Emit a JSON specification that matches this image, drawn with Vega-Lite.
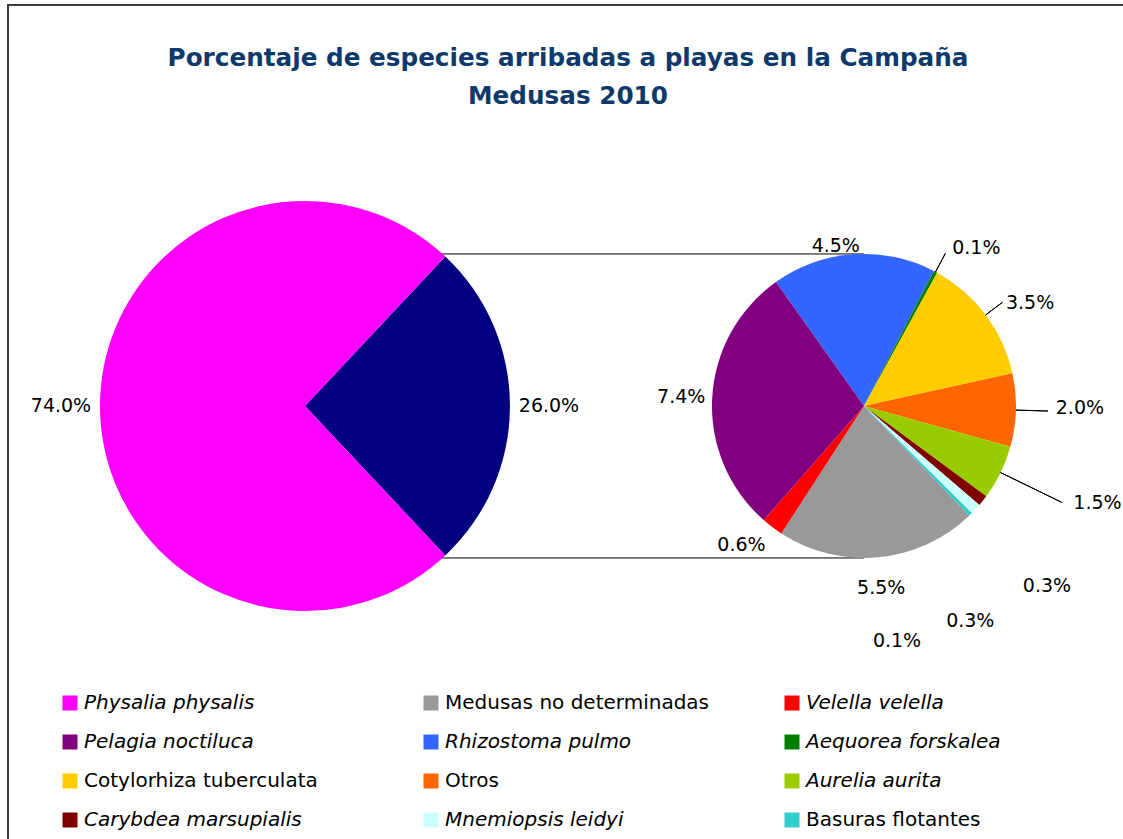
{
  "$schema": "https://vega.github.io/schema/vega-lite/v6.json",
  "width": 1130,
  "height": 877,
  "autosize": {"type": "none"},
  "padding": {"left": 8, "top": 5, "right": 0, "bottom": 0},
  "background": "white",
  "title": {
    "text": ["Porcentaje de especies arribadas a playas en la Campaña", "Medusas 2010"],
    "font": "DejaVu Sans",
    "fontSize": 24.7,
    "fontWeight": "bold",
    "color": "#0E3A6B",
    "anchor": "middle",
    "offset": -104,
    "dx": -5,
    "lineHeight": 38
  },
  "datasets": {
    "total": [
      {"grupo": "Total", "especie": "Resto", "porcentaje": 0.26, "orden": 1},
      {"grupo": "Total", "especie": "Physalia physalis", "porcentaje": 0.74, "orden": 2}
    ],
    "desglose": [
      {"grupo": "Desglose", "especie": "Rhizostoma pulmo", "porcentaje": 0.045, "orden": 1},
      {"grupo": "Desglose", "especie": "Aequorea forskalea", "porcentaje": 0.001, "orden": 2},
      {"grupo": "Desglose", "especie": "Cotylorhiza tuberculata", "porcentaje": 0.035, "orden": 3},
      {"grupo": "Desglose", "especie": "Otros", "porcentaje": 0.02, "orden": 4},
      {"grupo": "Desglose", "especie": "Aurelia aurita", "porcentaje": 0.015, "orden": 5},
      {"grupo": "Desglose", "especie": "Carybdea marsupialis", "porcentaje": 0.003, "orden": 6},
      {"grupo": "Desglose", "especie": "Mnemiopsis leidyi", "porcentaje": 0.003, "orden": 7},
      {"grupo": "Desglose", "especie": "Basuras flotantes", "porcentaje": 0.001, "orden": 8},
      {"grupo": "Desglose", "especie": "Medusas no determinadas", "porcentaje": 0.055, "orden": 9},
      {"grupo": "Desglose", "especie": "Velella velella", "porcentaje": 0.006, "orden": 10},
      {"grupo": "Desglose", "especie": "Pelagia noctiluca", "porcentaje": 0.074, "orden": 11}
    ],
    "conectores": [
      {"desde": "Total", "hasta": "Desglose"}
    ]
  },
  "config": {
    "view": {"stroke": "#3C3C3C", "strokeWidth": 2},
    "text": {"font": "DejaVu Sans"},
    "legend": {
      "orient": "bottom-left",
      "offset": 52,
      "columns": 3,
      "direction": "horizontal",
      "symbolType": "square",
      "symbolSize": 225,
      "symbolStrokeWidth": 0,
      "labelFont": "DejaVu Sans",
      "labelFontSize": 20,
      "labelColor": "black",
      "labelLimit": 500,
      "labelOffset": 4,
      "columnPadding": 72,
      "rowPadding": 19,
      "gridAlign": "all",
      "padding": 0
    }
  },
  "layer": [
    {
      "data": {"name": "conectores"},
      "mark": {"type": "rule", "color": "black", "strokeWidth": 1, "yOffset": -152},
      "encoding": {
        "x": {"field": "desde", "type": "nominal", "axis": null, "scale": {"type": "point", "domain": ["Total", "Desglose"], "padding": 0.5107, "align": 0.5201}},
        "x2": {"field": "hasta"},
        "y": {"datum": "centro", "type": "nominal", "axis": null, "scale": {"type": "point", "align": 0.4572}}
      }
    },
    {
      "data": {"name": "conectores"},
      "mark": {"type": "rule", "color": "black", "strokeWidth": 1, "yOffset": 152},
      "encoding": {
        "x": {"field": "desde", "type": "nominal", "axis": null},
        "x2": {"field": "hasta"},
        "y": {"datum": "centro", "type": "nominal", "axis": null}
      }
    },
    {
      "data": {"name": "total"},
      "encoding": {
        "x": {"field": "grupo", "type": "nominal", "axis": null},
        "y": {"datum": "centro", "type": "nominal", "axis": null},
        "theta": {"field": "porcentaje", "type": "quantitative", "stack": true, "scale": {"range": [0.754, 7.0372]}},
        "order": {"field": "orden", "type": "quantitative"}
      },
      "layer": [
        {
          "mark": {"type": "arc", "outerRadius": 205},
          "encoding": {
            "color": {
              "condition": {"test": "datum.especie === 'Resto'", "value": "#000080"},
              "field": "especie",
              "type": "nominal",
              "scale": {
                "domain": ["Physalia physalis", "Medusas no determinadas", "Velella velella", "Pelagia noctiluca", "Rhizostoma pulmo", "Aequorea forskalea", "Cotylorhiza tuberculata", "Otros", "Aurelia aurita", "Carybdea marsupialis", "Mnemiopsis leidyi", "Basuras flotantes"],
                "range": ["#FF00FF", "#999999", "#FF0000", "#800080", "#3366FF", "#008000", "#FFCC00", "#FF6600", "#99CC00", "#800000", "#CCFFFF", "#33CCCC"]
              },
              "legend": {
                "title": null,
                "encode": {"labels": {"update": {"fontStyle": {"signal": "indexof(['Medusas no determinadas','Cotylorhiza tuberculata','Otros','Basuras flotantes'], datum.value) >= 0 ? 'normal' : 'italic'"}}}}
              }
            }
          }
        },
        {
          "mark": {"type": "text", "radius": 244, "fontSize": 19, "color": "black"},
          "encoding": {"text": {"field": "porcentaje", "type": "quantitative", "format": ".1%"}}
        }
      ]
    },
    {
      "data": {"name": "desglose"},
      "encoding": {
        "x": {"field": "grupo", "type": "nominal", "axis": null},
        "y": {"datum": "centro", "type": "nominal", "axis": null},
        "theta": {"field": "porcentaje", "type": "quantitative", "stack": true, "scale": {"range": [-0.618, 5.6652]}},
        "order": {"field": "orden", "type": "quantitative"}
      },
      "layer": [
        {
          "mark": {"type": "arc", "outerRadius": 152},
          "encoding": {
            "color": {
              "field": "especie",
              "type": "nominal",
              "legend": {
                "title": null,
                "encode": {"labels": {"update": {"fontStyle": {"signal": "indexof(['Medusas no determinadas','Cotylorhiza tuberculata','Otros','Basuras flotantes'], datum.value) >= 0 ? 'normal' : 'italic'"}}}}
              }
            }
          }
        },
        {
          "mark": {"type": "arc", "innerRadius": 152, "outerRadius": 173, "padAngle": 2, "fill": "transparent", "stroke": "black", "strokeWidth": 1},
          "encoding": {"strokeOpacity": {"condition": {"test": "indexof(['Aequorea forskalea','Cotylorhiza tuberculata'], datum.especie) >= 0", "value": 1}, "value": 0}}
        },
        {
          "mark": {"type": "arc", "innerRadius": 152, "outerRadius": 184, "padAngle": 2, "fill": "transparent", "stroke": "black", "strokeWidth": 1},
          "encoding": {"strokeOpacity": {"condition": {"test": "datum.especie === 'Otros'", "value": 1}, "value": 0}}
        },
        {
          "mark": {"type": "arc", "innerRadius": 152, "outerRadius": 220, "padAngle": 2, "fill": "transparent", "stroke": "black", "strokeWidth": 1},
          "encoding": {"strokeOpacity": {"condition": {"test": "datum.especie === 'Aurelia aurita'", "value": 1}, "value": 0}}
        },
        {
          "mark": {"type": "text", "radius": 183, "fontSize": 19, "color": "black"},
          "encoding": {"text": {"condition": {"test": "indexof(['Medusas no determinadas','Pelagia noctiluca'], datum.especie) >= 0", "field": "porcentaje", "type": "quantitative", "format": ".1%"}, "value": ""}}
        },
        {
          "mark": {"type": "text", "radius": 183, "dx": -12, "dy": -7, "fontSize": 19, "color": "black"},
          "encoding": {"text": {"condition": {"test": "datum.especie === 'Velella velella'", "field": "porcentaje", "type": "quantitative", "format": ".1%"}, "value": ""}}
        },
        {
          "mark": {"type": "text", "radius": 160, "dx": -17, "fontSize": 19, "color": "black"},
          "encoding": {"text": {"condition": {"test": "datum.especie === 'Rhizostoma pulmo'", "field": "porcentaje", "type": "quantitative", "format": ".1%"}, "value": ""}}
        },
        {
          "mark": {"type": "text", "radius": 190, "dx": 14, "dy": 11, "fontSize": 19, "color": "black"},
          "encoding": {"text": {"condition": {"test": "datum.especie === 'Cotylorhiza tuberculata'", "field": "porcentaje", "type": "quantitative", "format": ".1%"}, "value": ""}}
        },
        {
          "mark": {"type": "text", "radius": 216, "dy": -4, "fontSize": 19, "color": "black"},
          "encoding": {"text": {"condition": {"test": "datum.especie === 'Otros'", "field": "porcentaje", "type": "quantitative", "format": ".1%"}, "value": ""}}
        },
        {
          "mark": {"type": "text", "radius": 194, "dx": 21, "dy": 13, "fontSize": 19, "color": "black"},
          "encoding": {"text": {"condition": {"test": "datum.especie === 'Aequorea forskalea'", "field": "porcentaje", "type": "quantitative", "format": ".1%"}, "value": ""}}
        },
        {
          "mark": {"type": "text", "radius": 252, "dx": 7, "dy": -13, "fontSize": 19, "color": "black"},
          "encoding": {"text": {"condition": {"test": "datum.especie === 'Aurelia aurita'", "field": "porcentaje", "type": "quantitative", "format": ".1%"}, "value": ""}}
        },
        {
          "mark": {"type": "text", "radius": 257, "dx": -18, "dy": 20, "fontSize": 19, "color": "black"},
          "encoding": {"text": {"condition": {"test": "datum.especie === 'Carybdea marsupialis'", "field": "porcentaje", "type": "quantitative", "format": ".1%"}, "value": ""}}
        },
        {
          "mark": {"type": "text", "radius": 240, "dx": -70, "dy": 52, "fontSize": 19, "color": "black"},
          "encoding": {"text": {"condition": {"test": "datum.especie === 'Mnemiopsis leidyi'", "field": "porcentaje", "type": "quantitative", "format": ".1%"}, "value": ""}}
        },
        {
          "mark": {"type": "text", "radius": 237, "dx": -133, "dy": 66, "fontSize": 19, "color": "black"},
          "encoding": {"text": {"condition": {"test": "datum.especie === 'Basuras flotantes'", "field": "porcentaje", "type": "quantitative", "format": ".1%"}, "value": ""}}
        }
      ],
      "resolve": {"scale": {"theta": "shared"}}
    }
  ],
  "resolve": {"scale": {"theta": "independent"}}
}
